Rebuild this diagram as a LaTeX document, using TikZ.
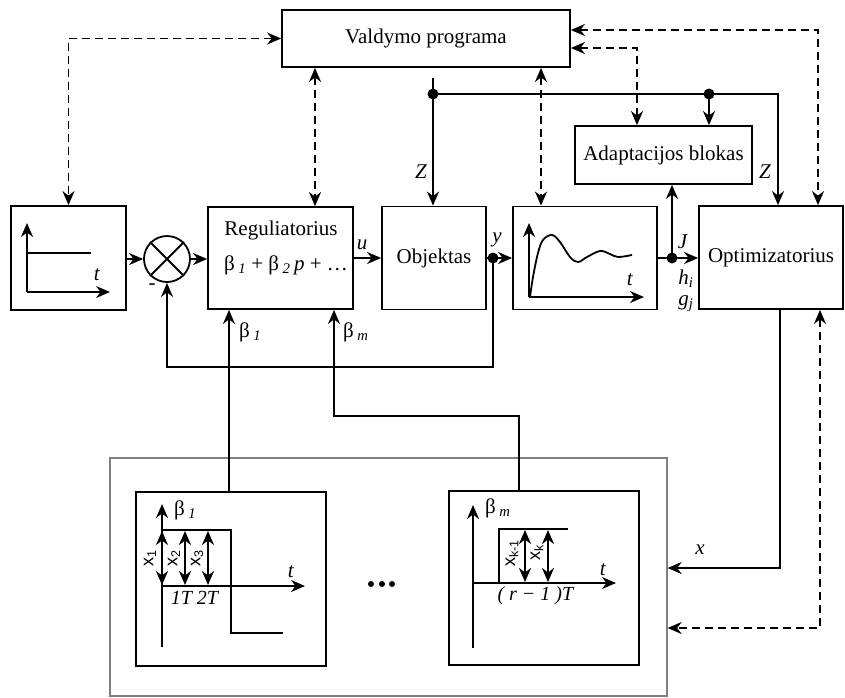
\documentclass[tikz,border=0pt]{standalone}
\usepackage{fontspec}
\setmainfont{Liberation Serif}
\newfontfamily\xfont{Liberation Sans}
\usetikzlibrary{arrows.meta}

\begin{document}
\begin{tikzpicture}[x=1pt, y=-1pt, line width=1.8pt,
        font=\fontsize{21}{24}\selectfont,
        >={Stealth[length=14pt, width=12pt, inset=4.5pt]},
        blok/.style={draw, rectangle, inner sep=0pt},
        valdlink/.style={dash pattern=on 8pt off 5pt},
        xlabel/.style={font=\xfont\fontsize{18}{20}\selectfont, rotate=90}]
        \useasboundingbox (0,0) rectangle (845,697);

        % Draw the blocks
        \node[blok, minimum width=288pt, minimum height=57pt] (valdymo) at (426,38.5) {Valdymo programa};
        \node[blok, minimum width=115pt, minimum height=104pt] (stepbox) at (68.5,258) {};
        \node[draw, circle, minimum size=46pt, inner sep=0pt] (sum) at (167,259) {};
        \node[blok, minimum width=145pt, minimum height=102pt] (reg) at (280.5,258) {};
        \node (regname) at (281,230) {Reguliatorius};
        \node (regformula) at (286,265) {β\,\textsubscript{\textit{1}} + β\,\textsubscript{\textit{2}}\,\textit{p} + …};
        \node[blok, minimum width=104pt, minimum height=103pt] (obj) at (434,258) {Objektas};
        \node[blok, minimum width=144pt, minimum height=103pt] (graph) at (585,258) {};
        \node[blok, minimum width=177pt, minimum height=58pt] (adapt) at (663.5,155) {Adaptacijos blokas};
        \node[blok, minimum width=144pt, minimum height=103pt] (opt) at (771,257.5) {Optimizatorius};

        % Draw the lower block with both parameter plots
        \node[draw=gray, line width=1.3pt, rectangle, inner sep=0pt, minimum width=557pt, minimum height=238pt] (planas) at (388.5,577) {};
        \node[blok, minimum width=190pt, minimum height=174pt] (beta1box) at (231,579) {};
        \node[blok, minimum width=190pt, minimum height=174pt] (betambox) at (544,578) {};

        % Cross in the summing point
        \draw (sum.north west) -- (sum.south east);
        \draw (sum.north east) -- (sum.south west);
        \node (minus) at (152,287) {-};

        % Draw the dashed links to the program block
        \draw[valdlink, <->] (valdymo.west) -| (stepbox.north);
        \draw[valdlink, <->] (valdymo.south -| 315,0) -- (reg.north -| 315,0);
        \draw[valdlink, <->] (valdymo.south -| 541,0) -- (graph.north -| 541,0);
        \draw[valdlink, <->] (valdymo.east |- 0,48) -| (adapt.north -| 637,0);
        \draw[valdlink, <->] (valdymo.east |- 0,30) -| (opt.north -| 818,0);
        \draw[valdlink, <->] (opt.south -| 820,0) |- (planas.east |- 0,628);

        % Draw the Z bus
        \coordinate (zstart) at (433,78);
        \coordinate (zdot1) at (433,94);
        \coordinate (zdot2) at (709,94);
        \draw[->] (zstart) -- (obj.north -| zstart);
        \draw[->] (zdot1) -| (opt.north -| 778,0);
        \draw[->] (zdot2) -- (adapt.north -| zdot2);
        \fill (zdot1) circle (5.5pt);
        \fill (zdot2) circle (5.5pt);
        \node (z1) at (421,172) {\textit{Z}};
        \node (z2) at (765,172) {\textit{Z}};

        % Draw the main loop
        \coordinate (ydot) at (493,258);
        \coordinate (jdot) at (672,258);
        \draw[->] (stepbox.east |- sum.west) -- (sum.west);
        \draw[->] (sum.east) -- (reg.west |- sum.east);
        \draw[->] (reg.east) -- (obj.west);
        \draw[->] (obj.east) -- (graph.west);
        \draw[->] (graph.east) -- (opt.west |- graph.east);
        \draw[->] (jdot) -- (adapt.south -| jdot);
        \fill (ydot) circle (5.5pt);
        \fill (jdot) circle (5.5pt);
        \node (u) at (362,245) {\textit{u}};
        \node (y) at (497,240) {\textit{y}};
        \node (J) at (683,242) {\textit{J}};
        \node (h) at (686,279) {\textit{h}\textsubscript{\textit{i}}};
        \node (g) at (686,304) {\textit{g}\textsubscript{\textit{j}}};

        % Feedback line
        \draw[->] (ydot) -- (ydot |- 0,367) -| (sum.south);

        % Draw the parameter inputs
        \coordinate (bend) at (334,416);
        \draw[->] (beta1box.north -| 229,0) -- (reg.south -| 229,0);
        \draw[->] (betambox.north -| 519,0) |- (bend) -- (reg.south -| bend);
        \node[anchor=west] (b1) at (235,332) {β\,\textsubscript{\textit{1}}};
        \node[anchor=west] (bm) at (339,332) {β\,\textsubscript{\textit{m}}};

        % Optimizer output x
        \draw[->] (opt.south -| 780,0) |- (planas.east |- 0,568);
        \node (x) at (700,550) {\textit{x}};

        % Step input plot
        \draw[->] (27,292) -- (27,223);
        \draw[->] (27,292) -- (110,292);
        \draw (27,253) -- (91,253);
        \node at (97,275) {\textit{t}};

        % Transient plot
        \draw[->] (529,297) -- (529,223);
        \draw[->] (529,297) -- (644,297);
        \draw plot[smooth, tension=0.6] coordinates {(530,297) (533,277) (538,253) (543,240) (552,235) (560,242) (570,257) (578,262) (587,257) (600,251) (610,254) (618,257) (632,255)};
        \node at (630,280) {\textit{t}};

        % Plot of beta 1
        \draw[->] (162,647) -- (162,504);
        \draw[->] (162,586) -- (305,586);
        \draw (162,530) -- (231,530) -- (231,633) -- (283,633);
        \foreach \i in {162,185,208} {
            \draw[<->, line width=2.3pt] (\i,531) -- (\i,585);
        }
        \node[anchor=west] at (170,510) {β\,\textsubscript{\textit{1}}};
        \node at (291,572) {\textit{t}};
        \node[xlabel] at (150,558) {x\textsubscript{1}};
        \node[xlabel] at (174,558) {x\textsubscript{2}};
        \node[xlabel] at (197,558) {x\textsubscript{3}};
        \node[font=\fontsize{20}{22}\selectfont] at (195,598) {\textit{1T 2T}};

        % Plot of beta m
        \draw[->] (473,648) -- (473,505);
        \draw[->] (473,583) -- (616,583);
        \draw (499,583) -- (499,529) -- (568,529);
        \foreach \i in {525,548} {
            \draw[<->, line width=2.3pt] (\i,530) -- (\i,582);
        }
        \node[anchor=west] at (481,508) {β\,\textsubscript{\textit{m}}};
        \node at (603,570) {\textit{t}};
        \node[xlabel] at (512,553) {x\textsubscript{k-1}};
        \node[xlabel] at (537,553) {x\textsubscript{k}};
        \node[font=\fontsize{20}{22}\selectfont] at (536,596) {\textit{( r − 1 )T}};

        % Dots between the plots
        \foreach \i in {371,382,392} {
            \fill (\i,584) circle (3pt);
        }
    \end{tikzpicture}
\end{document}
